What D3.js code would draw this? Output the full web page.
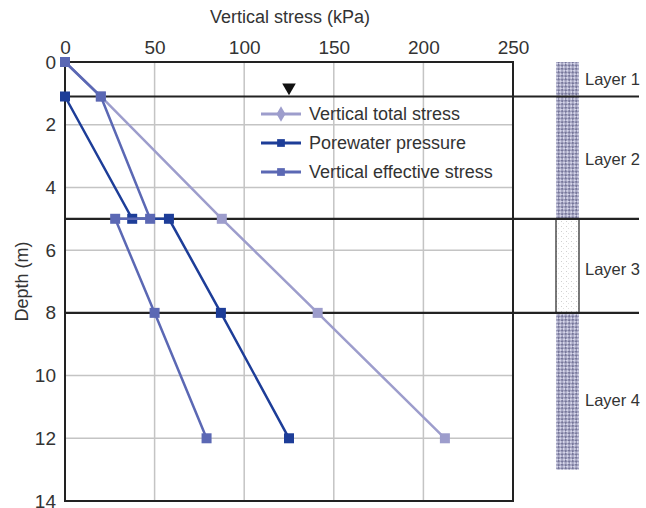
<!DOCTYPE html>
<html>
<head>
<meta charset="utf-8">
<script src="https://cdn.jsdelivr.net/npm/d3@7"></script>
<style>
  body { margin: 0; background: #fff; }
  text { font-family: "Liberation Sans", Arial, sans-serif; fill: #333; }
</style>
</head>
<body>
<svg id="chart" width="646" height="508"></svg>
<script>
// data
var totalDepth = [0, 1.1, 5, 8, 12];
var totalStress = [0, 20, 87.5, 141, 212];

var poreDepth = [1.1, 5, 5, 8, 12];
var porePressure = [0, 37.5, 58, 87, 125];

var effDepth = [0, 1.1, 5, 5, 8, 12];
var effStress = [0, 20, 47.5, 28, 50, 79];

var xTicks = [0, 50, 100, 150, 200, 250];
var yTicks = [0, 2, 4, 6, 8, 10, 12, 14];
var boundaryDepths = [1.1, 5, 8];
var waterTable = { stress: 125, depth: 1.1 };

var layerNames = ["Layer 1", "Layer 2", "Layer 3", "Layer 4"];
var layerLabelDepth = [0.55, 3.1, 6.6, 10.8];
var columnTop = [0, 5, 8];
var columnBottom = [5, 8, 13];
var columnFill = ["hatch", "dots", "hatch"];

var seriesNames = ["Vertical total stress", "Porewater pressure", "Vertical effective stress"];
var seriesColors = ["#9d9dcc", "#1d3d98", "#5b68b4"];

var svg = d3.select("svg#chart");

var x = d3.scaleLinear().domain([0, 250]).range([65, 513]);
var y = d3.scaleLinear().domain([0, 14]).range([62, 501]);

var defs = svg.append("defs");
var hatch = defs.append("pattern")
    .attr("id", "hatch")
    .attr("patternUnits", "userSpaceOnUse")
    .attr("width", 5)
    .attr("height", 5)
    .attr("patternTransform", "rotate(45)");
hatch.append("rect").attr("width", 5).attr("height", 5).attr("fill", "#d6d6ea");
hatch.append("rect").attr("width", 2.5).attr("height", 2.5).attr("fill", "#76769a");
hatch.append("rect").attr("x", 2.5).attr("y", 2.5).attr("width", 2.5).attr("height", 2.5).attr("fill", "#76769a");

var dots = defs.append("pattern")
    .attr("id", "dots")
    .attr("patternUnits", "userSpaceOnUse")
    .attr("width", 5)
    .attr("height", 5);
dots.append("rect").attr("width", 5).attr("height", 5).attr("fill", "#fff");
dots.append("rect").attr("x", 1).attr("y", 1).attr("width", 1).attr("height", 1).attr("fill", "#d0d0d0");
dots.append("rect").attr("x", 3).attr("y", 3).attr("width", 1).attr("height", 1).attr("fill", "#e2e2e2");

// gridlines
svg.append("g")
    .selectAll("line")
    .data(xTicks.slice(1, -1))
    .enter()
    .append("line")
    .attr("x1", d => x(d))
    .attr("x2", d => x(d))
    .attr("y1", y(0))
    .attr("y2", y(14))
    .attr("stroke", "#c4c4c4")
    .attr("stroke-width", 1.5);

svg.append("g")
    .selectAll("line")
    .data(yTicks.filter(d => d > 0 && d < 14 && boundaryDepths.indexOf(d) < 0))
    .enter()
    .append("line")
    .attr("x1", x(0))
    .attr("x2", x(250))
    .attr("y1", d => y(d))
    .attr("y2", d => y(d))
    .attr("stroke", "#c4c4c4")
    .attr("stroke-width", 1.5);

// soil column
svg.append("g")
    .selectAll("rect")
    .data(columnTop)
    .enter()
    .append("rect")
    .attr("x", 556)
    .attr("width", 23)
    .attr("y", d => y(d))
    .attr("height", (d, i) => y(columnBottom[i]) - y(d))
    .attr("fill", (d, i) => "url(#" + columnFill[i] + ")")
    .attr("stroke", (d, i) => columnFill[i] == "dots" ? "#222" : "none")
    .attr("stroke-width", 1.2);

svg.append("g")
    .selectAll("text")
    .data(layerNames)
    .enter()
    .append("text")
    .attr("x", 585)
    .attr("y", (d, i) => y(layerLabelDepth[i]))
    .attr("dy", "0.35em")
    .style("font-size", "16.5px")
    .text(d => d);

// frame
svg.append("path")
    .attr("d", "M" + x(0) + "," + y(0) + "H" + x(250) + "V" + y(14) + "H" + x(0) + "Z")
    .attr("fill", "none")
    .attr("stroke", "#222")
    .attr("stroke-width", 2);

// layer boundaries
svg.append("g")
    .selectAll("line")
    .data(boundaryDepths)
    .enter()
    .append("line")
    .attr("x1", x(0))
    .attr("x2", 639)
    .attr("y1", d => y(d))
    .attr("y2", d => y(d))
    .attr("stroke", "#222")
    .attr("stroke-width", 2.2);

// axes
var xAxis = svg.append("g")
    .attr("transform", "translate(0," + y(0) + ")")
    .call(d3.axisTop(x).tickValues(xTicks).tickSize(0).tickPadding(8));
var yAxis = svg.append("g")
    .attr("transform", "translate(" + x(0) + ",0)")
    .call(d3.axisLeft(y).tickValues(yTicks).tickSize(0).tickPadding(9));
[xAxis, yAxis].forEach(a => {
    a.select(".domain").remove();
    a.selectAll("text").style("font-size", "19px").attr("fill", "#333")
        .attr("font-family", "Liberation Sans, Arial, sans-serif");
});

svg.append("text")
    .attr("x", 290)
    .attr("y", 23)
    .style("text-anchor", "middle")
    .style("font-size", "18px")
    .text("Vertical stress (kPa)");

svg.append("text")
    .attr("transform", "translate(28," + y(7) + ") rotate(-90)")
    .style("text-anchor", "middle")
    .style("font-size", "18px")
    .text("Depth (m)");

// water table marker
svg.append("path")
    .attr("d", d3.symbol().type(d3.symbolTriangle).size(80))
    .attr("transform", "translate(" + x(waterTable.stress) + "," + (y(waterTable.depth) - 9) + ") rotate(180)")
    .attr("fill", "#111");

// series
var series = [
    totalDepth.map((d, i) => ({ depth: d, value: totalStress[i] })),
    poreDepth.map((d, i) => ({ depth: d, value: porePressure[i] })),
    effDepth.map((d, i) => ({ depth: d, value: effStress[i] }))
];

var line = d3.line().x(d => x(d.value)).y(d => y(d.depth));

series.forEach((s, k) => {
    var g = svg.append("g");
    g.append("path")
        .datum(s)
        .attr("d", line)
        .attr("fill", "none")
        .attr("stroke", seriesColors[k])
        .attr("stroke-width", 2.5);
    g.selectAll("rect")
        .data(s)
        .enter()
        .append("rect")
        .attr("x", d => x(d.value) - 5)
        .attr("y", d => y(d.depth) - 5)
        .attr("width", 10)
        .attr("height", 10)
        .attr("fill", seriesColors[k]);
});

// legend
var legend = svg.append("g")
    .selectAll("g")
    .data(seriesNames)
    .enter()
    .append("g")
    .attr("transform", (d, i) => "translate(261," + (114 + i * 29) + ")");

legend.append("line")
    .attr("x1", 0)
    .attr("x2", 40)
    .attr("stroke", (d, i) => seriesColors[i])
    .attr("stroke-width", 3);

legend.append("path")
    .attr("d", (d, i) => d3.symbol().type(i == 0 ? d3.symbolDiamond : d3.symbolSquare).size(i == 0 ? 70 : 60)())
    .attr("transform", "translate(20,0)")
    .attr("fill", (d, i) => seriesColors[i]);

legend.append("text")
    .attr("x", 48)
    .attr("dy", "0.35em")
    .style("font-size", "18px")
    .text(d => d);
</script>
</body>
</html>
